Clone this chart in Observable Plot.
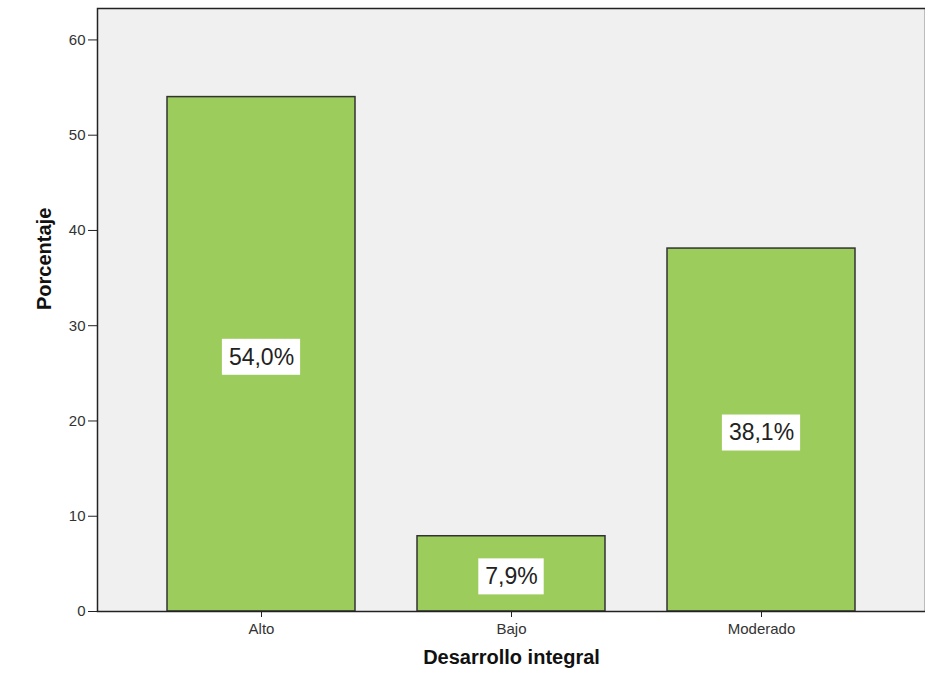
<!DOCTYPE html>
<html>
<head>
<meta charset="utf-8">
<script src="https://cdn.jsdelivr.net/npm/d3@7"></script>
<script src="https://cdn.jsdelivr.net/npm/@observablehq/plot@0.6"></script>
<style>
  html, body { margin: 0; padding: 0; background: #ffffff; }
  #chart { width: 925px; height: 694px; }
  svg { font-family: "Liberation Sans", Arial, sans-serif; }
</style>
</head>
<body>
<div id="chart"></div>
<script>
const categories = ["Alto", "Bajo", "Moderado"];
const values = [54.0, 7.9, 38.1];
const valueLabels = ["54,0%", "7,9%", "38,1%"];
const yTicks = [0, 10, 20, 30, 40, 50, 60];
const xTitle = "Desarrollo integral";
const yTitle = "Porcentaje";

const data = categories.map((c, i) => ({cat: c, value: values[i], label: valueLabels[i]}));

// measure label widths to size the white boxes
const ctx = document.createElement("canvas").getContext("2d");
ctx.font = '23px "Liberation Sans", Arial, sans-serif';
const labelFontSize = 23;

const barWidthGuess = 187; // used only to derive box insets relative to the band
function boxMark(d) {
  const w = ctx.measureText(d.label).width + 12;
  const inset = (barWidthGuess - w) / 2;
  return Plot.rectY([d], {
    x: "cat",
    y1: v => v.value / 2,
    y2: v => v.value / 2,
    fill: "#ffffff",
    insetLeft: inset,
    insetRight: inset,
    insetTop: -15,
    insetBottom: -21
  });
}

const chart = Plot.plot({
  width: 925,
  height: 694,
  marginLeft: 97,
  marginRight: 0,
  marginTop: 8,
  marginBottom: 83,
  style: {background: "#ffffff", fontFamily: "Liberation Sans, Arial, sans-serif", color: "#222"},
  x: {domain: categories, paddingInner: 0.25, paddingOuter: 0.28, label: null},
  y: {domain: [0, 63.3], label: null},
  marks: [
    Plot.frame({fill: "#f0f0f0", stroke: null}),
    Plot.barY(data, {x: "cat", y: "value", fill: "#9ccc5c", stroke: "#333333", strokeWidth: 1.5}),
    ...data.map(boxMark),
    Plot.text(data, {x: "cat", y: d => d.value / 2, text: "label", dy: 3, fontSize: labelFontSize, fill: "#222"}),
    Plot.frame({stroke: "#222", strokeWidth: 1.5}),
    Plot.axisY({ticks: yTicks, tickSize: 9, tickPadding: 3, fontSize: 15, label: null, stroke: "#222", fill: "#333"}),
    Plot.axisX({tickSize: 6, tickPadding: 6, fontSize: 15, label: null, stroke: "#222", fill: "#333"}),
    Plot.text([yTitle], {text: d => d, frameAnchor: "left", dx: -53, rotate: -90, fontSize: 20, fontWeight: "bold", fill: "#111"}),
    Plot.text([xTitle], {text: d => d, frameAnchor: "bottom", dy: 52, fontSize: 20, fontWeight: "bold", fill: "#111"})
  ]
});

document.getElementById("chart").appendChild(chart);
</script>
</body>
</html>
